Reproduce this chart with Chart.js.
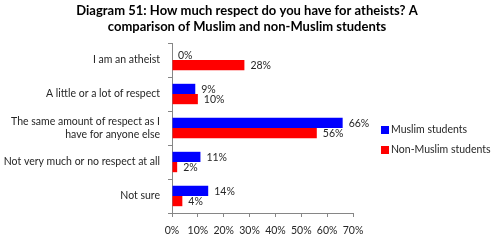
<!DOCTYPE html>
<html>
<head>
<meta charset="utf-8">
<script src="https://cdn.jsdelivr.net/npm/chart.js@4"></script>
<style>
  html, body { margin: 0; padding: 0; background: #fff; }
  #wrap { width: 500px; height: 248px; }
</style>
</head>
<body>
<div id="wrap"><canvas id="chart" width="500" height="248"></canvas></div>
<script>
// Chart data
const categories = [
    'I am an atheist',
    'A little or a lot of respect',
    ['The same amount of respect as I', 'have for anyone else'],
    'Not very much or no respect at all',
    'Not sure'
];
const muslimValues = [0, 9, 66, 11, 14];
const nonMuslimValues = [28, 10, 56, 2, 4];
const seriesNames = ['Muslim students', 'Non-Muslim students'];
const titleLines = [
    'Diagram 51: How much respect do you have for atheists? A',
    'comparison of Muslim and non-Muslim students'
];

const textColor = '#262626';
const axisColor = '#868686';
const labelFont = '10.5px Lato, "Open Sans", sans-serif';

// title, value labels and legend drawn by hand so the layout stays put
const extrasPlugin = {
    id: 'extras',
    afterDatasetsDraw(chart) {
        const c = chart.ctx;
        c.save();
        c.font = labelFont;
        c.fillStyle = textColor;
        c.textAlign = 'left';
        c.textBaseline = 'middle';
        chart.data.datasets.forEach((ds, i) => {
            const meta = chart.getDatasetMeta(i);
            meta.data.forEach((bar, j) => {
                c.fillText(ds.data[j] + '%', bar.x + 6, bar.y + 1);
            });
        });
        c.restore();
    },
    afterDraw(chart) {
        const c = chart.ctx;
        c.save();
        // title
        c.font = 'bold 13px Lato, sans-serif';
        c.fillStyle = '#000';
        c.textAlign = 'center';
        c.textBaseline = 'middle';
        titleLines.forEach((line, i) => c.fillText(line, 247, 11 + i * 16));
        // legend
        c.font = labelFont;
        c.textAlign = 'left';
        chart.data.datasets.forEach((ds, i) => {
            const y = 130 + i * 20;
            c.fillStyle = ds.backgroundColor;
            c.fillRect(381, y - 4, 8, 8);
            c.fillStyle = textColor;
            c.fillText(ds.label, 391, y);
        });
        c.restore();
    }
};

const ctx = document.getElementById('chart').getContext('2d');
const chart = new Chart(ctx, {
    type: 'bar',
    data: {
        labels: categories,
        datasets: [
            {
                label: seriesNames[0],
                data: muslimValues,
                backgroundColor: '#0000ff',
                categoryPercentage: 0.6,
                barPercentage: 1.0
            },
            {
                label: seriesNames[1],
                data: nonMuslimValues,
                backgroundColor: '#ff0000',
                categoryPercentage: 0.6,
                barPercentage: 1.0
            }
        ]
    },
    options: {
        indexAxis: 'y',
        responsive: false,
        animation: false,
        layout: {
            padding: { top: 43, right: 147, bottom: 0, left: 0 }
        },
        plugins: {
            legend: { display: false },
            title: { display: false },
            tooltip: { enabled: false }
        },
        scales: {
            x: {
                min: 0,
                max: 70,
                ticks: {
                    stepSize: 10,
                    padding: 7,
                    autoSkip: false,
                    maxRotation: 0,
                    minRotation: 0,
                    color: textColor,
                    font: { family: 'Lato', size: 10.5 },
                    callback: v => v + '%'
                },
                grid: { drawOnChartArea: false, tickLength: 4, color: axisColor },
                border: { color: axisColor },
                afterFit(scale) { scale.height = 35; }
            },
            y: {
                ticks: {
                    padding: 8,
                    autoSkip: false,
                    color: textColor,
                    font: { family: 'Lato', size: 10.5, lineHeight: 1.3 }
                },
                grid: { drawOnChartArea: false, tickLength: 4, color: axisColor, offset: true },
                border: { color: axisColor },
                afterFit(scale) { scale.width = 172; }
            }
        }
    },
    plugins: [extrasPlugin]
});
</script>
</body>
</html>
